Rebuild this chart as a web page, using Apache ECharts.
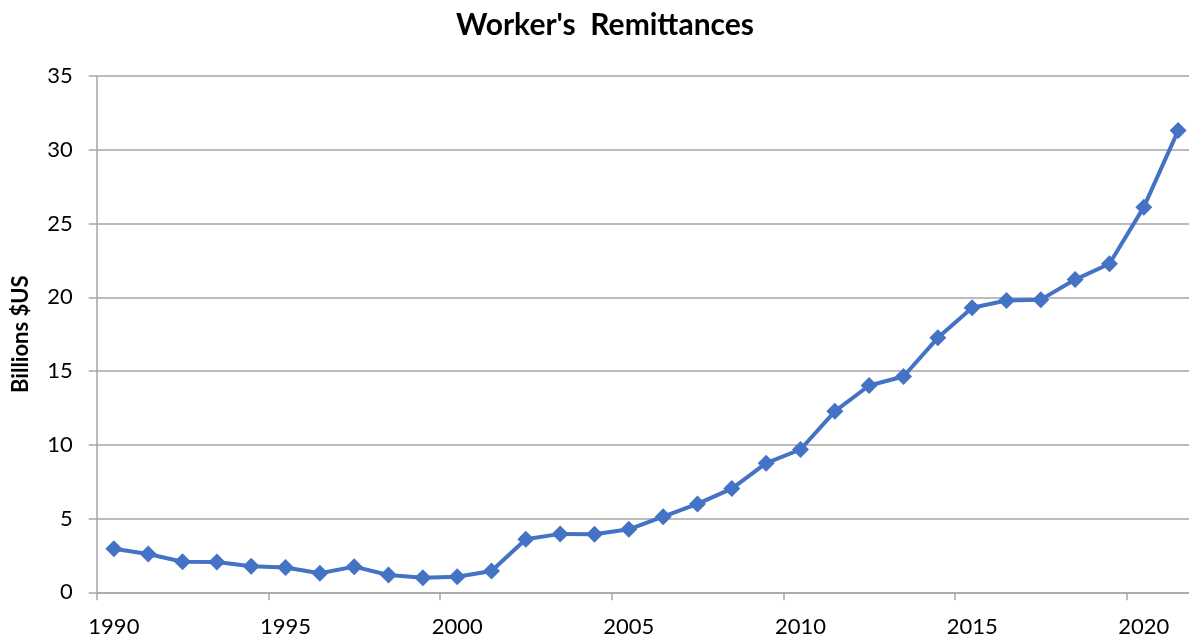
<!DOCTYPE html>
<html>
<head>
<meta charset="utf-8">
<script src="https://cdn.jsdelivr.net/npm/echarts@6/dist/echarts.min.js"></script>
<style>
  html, body { margin: 0; padding: 0; background: #ffffff; }
  #chart { width: 1189px; height: 638px; }
</style>
</head>
<body>
<div id="chart"></div>
<script>
// Years on the category axis
const years = [
  '1990','1991','1992','1993','1994','1995','1996','1997','1998','1999',
  '2000','2001','2002','2003','2004','2005','2006','2007','2008','2009',
  '2010','2011','2012','2013','2014','2015','2016','2017','2018','2019',
  '2020','2021'
];
// Worker's remittances, billions of US dollars
const remittances = [
  2.95, 2.60, 2.07, 2.05, 1.77, 1.68, 1.29, 1.74, 1.17, 0.99,
  1.06, 1.45, 3.60, 3.96, 3.94, 4.27, 5.13, 5.99, 7.03, 8.75,
  9.68, 12.27, 14.02, 14.63, 17.25, 19.29, 19.78, 19.84, 21.20, 22.27,
  26.11, 31.30
];
const titleText = "Worker's  Remittances";
const yAxisName = 'Billions $US';

const FONT = 'Lato';
const GREY = '#a6a6a6';

const chart = echarts.init(document.getElementById('chart'), null, { renderer: 'canvas' });
chart.setOption({
  animation: false,
  backgroundColor: '#ffffff',
  title: {
    text: titleText,
    left: 600,
    top: 5,
    textAlign: 'center',
    textStyle: { fontFamily: FONT, fontWeight: 'bold', fontSize: 30, color: '#000000' }
  },
  grid: {
    left: 96.7, right: -6.3, top: 76, bottom: 45.7,
    containLabel: false,
    outerBoundsMode: 'none'
  },
  xAxis: {
    type: 'category',
    data: years,
    boundaryGap: true,
    axisLine: { show: true, lineStyle: { color: GREY, width: 1.5 } },
    axisTick: { show: true, interval: 4, length: 8, alignWithLabel: false, lineStyle: { color: GREY, width: 1.5 } },
    axisLabel: { interval: 4, margin: 24, fontFamily: FONT, fontSize: 22, color: '#000000' },
    splitLine: { show: false }
  },
  yAxis: {
    type: 'value',
    min: 0,
    max: 35,
    interval: 5,
    name: yAxisName,
    nameLocation: 'middle',
    nameGap: 65,
    nameRotate: 90,
    nameTextStyle: { fontFamily: FONT, fontWeight: 'bold', fontSize: 22, color: '#000000' },
    axisLine: { show: true, lineStyle: { color: GREY, width: 1.5 } },
    axisTick: { show: true, inside: false, length: 8, lineStyle: { color: GREY, width: 1.5 } },
    axisLabel: { margin: 24, fontFamily: FONT, fontSize: 22, color: '#000000' },
    splitLine: { show: true, lineStyle: { color: GREY, width: 1.5 } }
  },
  series: [{
    type: 'line',
    data: remittances,
    symbol: 'diamond',
    symbolSize: 17,
    showAllSymbol: true,
    lineStyle: { color: '#4472c4', width: 4 },
    itemStyle: { color: '#4472c4' }
  }]
});
</script>
</body>
</html>
